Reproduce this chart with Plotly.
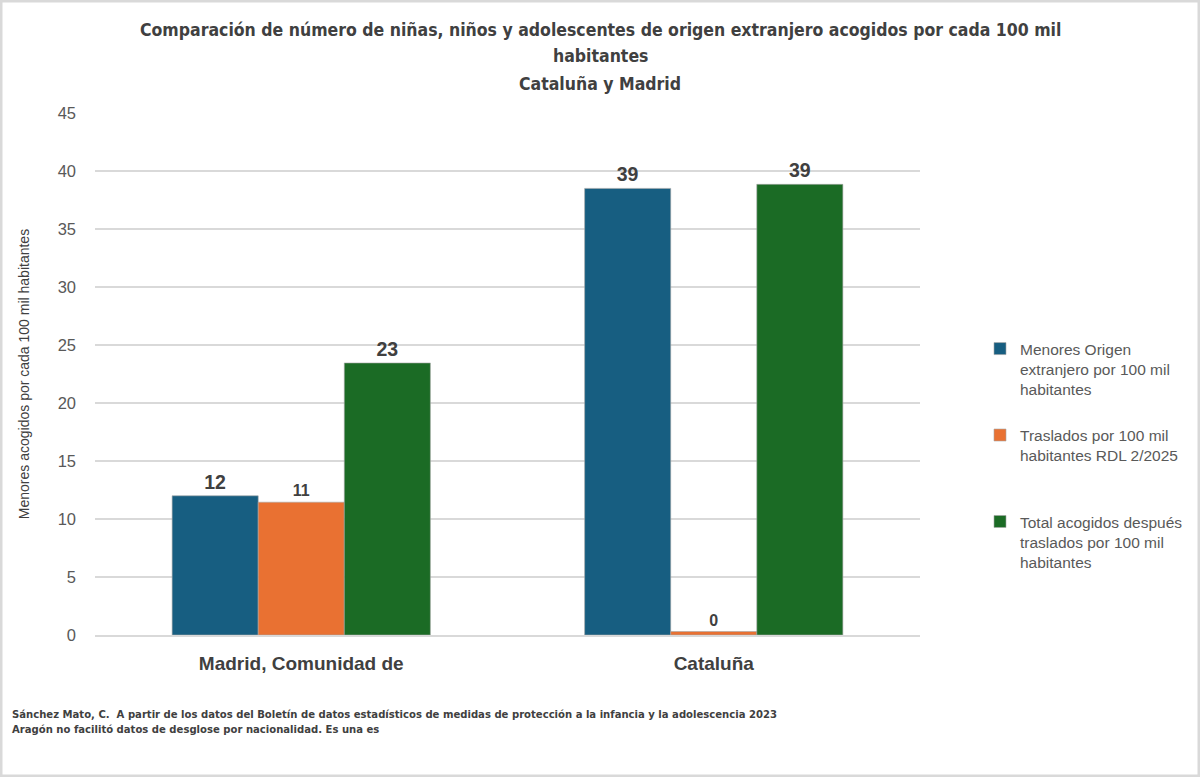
import plotly.graph_objects as go

categories = ["Madrid, Comunidad de", "Cataluña"]
series_names = [
    "Menores Origen<br>extranjero por 100 mil<br>habitantes",
    "Traslados por 100 mil<br>habitantes RDL 2/2025<br> ",
    "Total acogidos después<br>traslados por 100 mil<br>habitantes",
]
menores = [12.0, 38.5]
traslados = [11.45, 0.3]
total = [23.45, 38.85]
colors = ["#175e81", "#e97132", "#1b6b25"]
label_sizes = [19.5, 16, 19.5]
title_lines = [
    "Comparación de número de niñas, niños y adolescentes de origen extranjero acogidos por cada 100 mil",
    "habitantes",
    "Cataluña y Madrid",
]
footnote = ("Sánchez Mato, C.  A partir de los datos del Boletín de datos estadísticos de medidas de protección a la infancia y la adolescencia 2023"
            "<br>Aragón no facilitó datos de desglose por nacionalidad. Es una es")

W, H = 1200, 777
ML, MR, MT, MB = 95, 280, 113, 142
PW, PH = W - ML - MR, H - MT - MB

def px_to_py(y):
    return (H - MB - y) / PH

def px_to_px(x):
    return (x - ML) / PW

fig = go.Figure()
for name, vals, col, ls in zip(series_names, [menores, traslados, total], colors, label_sizes):
    fig.add_trace(go.Bar(
        x=categories, y=vals, name=name, legendgroup=name,
        marker=dict(color=col, line=dict(color="#a6a6a6", width=0.6)),
        texttemplate="%{y:.0f}", textposition="outside", cliponaxis=False,
        textfont=dict(size=ls, color="#404040", family="Liberation Sans", weight="bold"),
    ))

narrow = "Liberation Sans Narrow, DejaVu Sans Condensed, Arial Narrow, sans-serif"

fig.update_layout(
    width=W, height=H,
    margin=dict(l=ML, r=MR, t=MT, b=MB, autoexpand=False),
    paper_bgcolor="white", plot_bgcolor="white",
    barmode="group", bargap=0.374, bargroupgap=0,
    xaxis=dict(
        showgrid=False, showline=True, linecolor="#d9d9d9", linewidth=1.5,
        tickfont=dict(family="Liberation Sans", size=19, color="#404040", weight="bold"),
        ticks="", ticklabelstandoff=10,
    ),
    yaxis=dict(
        range=[0, 45], dtick=5, showgrid=True, gridcolor="#d9d9d9", gridwidth=1.5,
        zeroline=False, showline=False,
        tickfont=dict(family="Liberation Sans", size=16.5, color="#595959"),
        ticks="", ticklabelstandoff=18,
        title=dict(text="Menores acogidos por cada 100 mil habitantes", standoff=24,
                   font=dict(family="Liberation Sans", size=14, color="#404040")),
    ),
    legend=dict(
        x=px_to_px(980), xanchor="left", y=px_to_py(332), yanchor="top",
        font=dict(family="Liberation Sans", size=15.5, color="#595959"),
        traceorder="grouped", tracegroupgap=23, valign="top",
        itemwidth=30, bgcolor="rgba(0,0,0,0)",
    ),
    showlegend=True,
    font=dict(family="Liberation Sans"),
)

for line, yc in zip(title_lines, [30, 56, 84]):
    fig.add_annotation(
        text="<b>" + line + "</b>", xref="paper", yref="paper",
        x=px_to_px(W / 2), y=px_to_py(yc), xanchor="center", yanchor="middle",
        showarrow=False, font=dict(family=narrow, size=17.5, color="#404040"),
    )

fig.add_annotation(
    text="<b>" + footnote + "</b>",
    xref="paper", yref="paper", x=px_to_px(10), y=px_to_py(706),
    xanchor="left", yanchor="top", align="left", showarrow=False,
    font=dict(family=narrow, size=11.2, color="#404040"),
)

fig.add_shape(
    type="rect", xref="paper", yref="paper",
    x0=px_to_px(1), x1=px_to_px(W - 1),
    y0=px_to_py(H - 1), y1=px_to_py(1),
    line=dict(color="#d9d9d9", width=3), fillcolor="rgba(0,0,0,0)", layer="above",
)

fig.write_html("out.html")
